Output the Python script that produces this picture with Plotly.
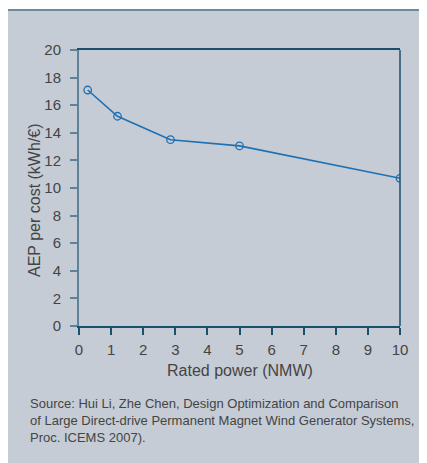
import plotly.graph_objects as go

rated_power = [0.27, 1.2, 2.85, 5, 10]
aep_per_cost = [17.1, 15.2, 13.5, 13.05, 10.7]
x_ticks = [0, 1, 2, 3, 4, 5, 6, 7, 8, 9, 10]
y_ticks = [0, 2, 4, 6, 8, 10, 12, 14, 16, 18, 20]
x_title = "Rated power (NMW)"
y_title = "AEP per cost (kWh/€)"
source_lines = [
    "Source: Hui Li, Zhe Chen, Design Optimization and Comparison",
    "of Large Direct-drive Permanent Magnet Wind Generator Systems,",
    "Proc. ICEMS 2007).",
]

W, H = 427, 463
OFF = 8  # page body margin
L, T = 79 - OFF, 50 - OFF
pw, ph = 321, 276
R = W - L - pw
B = H - T - ph

def px(xw):
    return (xw - OFF - L) / pw

def py(yw):
    return (T + ph - (yw - OFF)) / ph

FONT = "Liberation Sans, Arial, Helvetica, sans-serif"
BG = "#c5ccd5"
DARK = "#1b4f6b"
LIGHT = "#5f8299"
TXT = "#444444"

fig = go.Figure()
fig.add_trace(go.Scatter(
    x=rated_power, y=aep_per_cost, mode="lines+markers",
    line=dict(color="#1f70b3", width=1.6),
    marker=dict(symbol="circle-open", size=7.5, color="#1f70b3", line=dict(width=1.3)),
    showlegend=False, hoverinfo="x+y",
))

shapes = [
    dict(type="rect", xref="paper", yref="paper", x0=px(7), x1=px(440), y0=py(480), y1=py(9),
         fillcolor=BG, line=dict(width=0), layer="below"),
    dict(type="line", xref="paper", yref="paper", x0=px(7), x1=px(440), y0=py(10), y1=py(10),
         line=dict(color="#6d8b9b", width=2)),
    dict(type="line", xref="paper", yref="paper", x0=1, x1=1, y0=0, y1=1,
         line=dict(color=DARK, width=1.5)),
]

annotations = [
    dict(text=y_title, xref="paper", yref="paper", x=px(34), y=py(200), textangle=-90,
         showarrow=False, font=dict(family=FONT, size=16, color=TXT), xanchor="center", yanchor="middle"),
    dict(text=x_title, xref="paper", yref="paper", x=px(240), y=py(370),
         showarrow=False, font=dict(family=FONT, size=16, color=TXT), xanchor="center", yanchor="middle"),
    dict(text="<br>".join(source_lines), xref="paper", yref="paper", x=px(28), y=py(394),
         showarrow=False, align="left", xanchor="left", yanchor="top",
         font=dict(family=FONT, size=13, color=TXT)),
]

fig.update_layout(
    width=W, height=H,
    margin=dict(l=L, r=R, t=T, b=B, pad=0),
    paper_bgcolor="white", plot_bgcolor="rgba(0,0,0,0)",
    font=dict(family=FONT, color=TXT),
    shapes=shapes, annotations=annotations,
    xaxis=dict(range=[0, 10], tickvals=x_ticks, ticks="outside", ticklen=7, tickwidth=1.5,
               tickcolor=DARK, showline=True, linecolor=DARK, linewidth=1.5, mirror=True,
               ticklabelstandoff=2,
               showgrid=False, zeroline=False, tickfont=dict(size=15, color=TXT, family=FONT)),
    yaxis=dict(range=[0, 20], tickvals=y_ticks, ticks="outside", ticklen=7, tickwidth=1.5,
               tickcolor=LIGHT, showline=True, linecolor=LIGHT, linewidth=2, ticklabelstandoff=6,
               showgrid=False, zeroline=False, tickfont=dict(size=15, color=TXT, family=FONT)),
)

fig.write_html("out.html")
